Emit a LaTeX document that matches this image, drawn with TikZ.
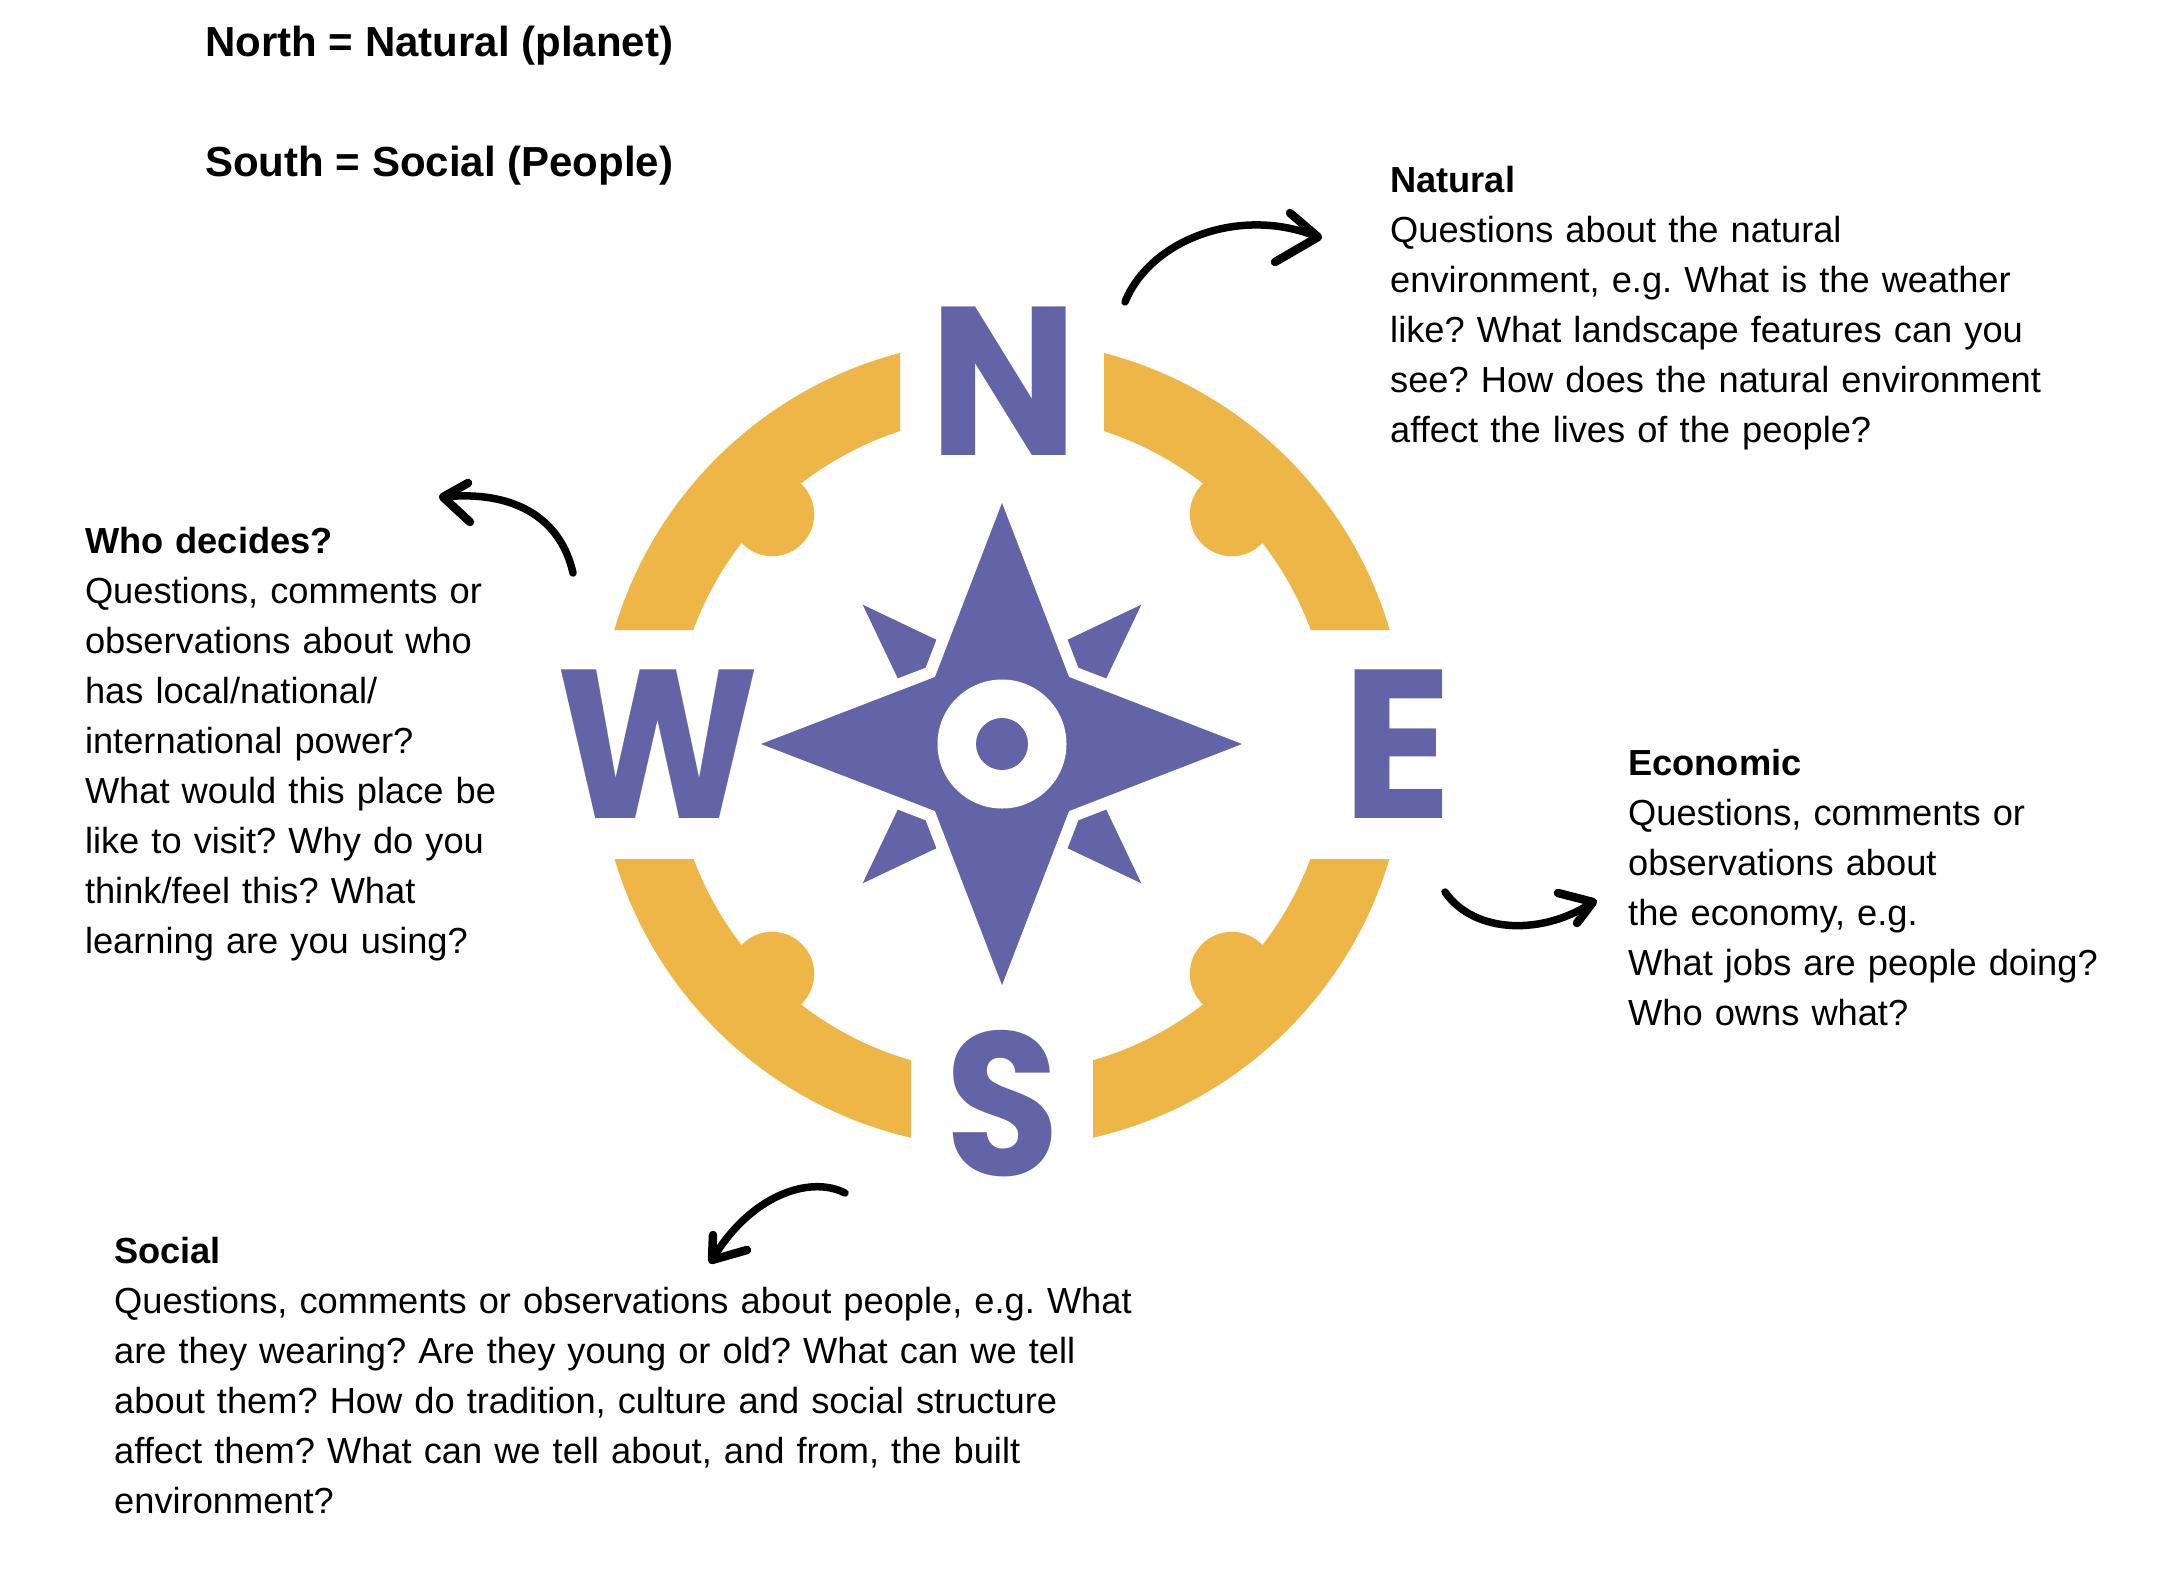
\documentclass[tikz,border=0pt]{standalone}
\usepackage{fontspec}
\usepackage{graphicx}
\setmainfont{Liberation Sans}
\newfontfamily\compassfont{Poppins}
\usetikzlibrary{calc}
\definecolor{cpurple}{HTML}{6264A7}
\definecolor{corange}{HTML}{EEB646}
\begin{document}
\begin{tikzpicture}[x=1pt,y=-1pt,
  body/.style={anchor=base west, inner sep=0pt, text width=#1, align=left,
    font=\fontsize{36.25}{50}\selectfont\frenchspacing},
  titletext/.style={anchor=base west, inner sep=0pt,
    font=\fontsize{42}{50}\selectfont\bfseries},
  brush/.style={line width=7.5pt, line cap=round, line join=round},
  brushhead/.style={line width=8.5pt, line cap=round, line join=round},
  letter/.style={anchor=base west, inner sep=0pt, text=cpurple}
]
\useasboundingbox (0,0) rectangle (2176,1572);
\fill[white] (0,0) rectangle (2176,1572);
\coordinate (C) at (1002,744);

% ---- orange ring ----
\begin{scope}
  \clip (0,0) rectangle (900,630) (1104,0) rectangle (2176,630)
        (0,859) rectangle (911,1572) (1093,859) rectangle (2176,1572);
  \fill[corange, even odd rule] (C) circle[radius=404] (C) circle[radius=329];
  \foreach \a in {45,135,225,315}
    \fill[corange] ($(C)+(\a:325)$) circle[radius=42];
\end{scope}

% ---- diagonal star ----
\fill[cpurple] (862.7,604.7) -- (1002,671) -- (1141.3,604.7) -- (1075,744)
  -- (1141.3,883.3) -- (1002,817) -- (862.7,883.3) -- (929,744) -- cycle;
% ---- main star ----
\path[draw=white, line width=24pt, line join=round]
  (1002,503) -- (1069,677) -- (1242,744) -- (1069,811) -- (1002,985)
  -- (935,811) -- (761,744) -- (935,677) -- cycle;
\fill[cpurple]
  (1002,503) -- (1069,677) -- (1242,744) -- (1069,811) -- (1002,985)
  -- (935,811) -- (761,744) -- (935,677) -- cycle;
\fill[white] (C) circle[radius=64.5];
\fill[cpurple] (C) circle[radius=26];

% ---- letters ----
\node[letter] (N) at (929,455) {\resizebox{148.8pt}{148.5pt}{\compassfont\bfseries N}};
\node[letter] (W) at (556.5,818.6) {\resizebox{202.8pt}{148.6pt}{\compassfont\bfseries W}};
\node[letter] (E) at (1342,818.6) {\resizebox{110pt}{148.6pt}{\compassfont\bfseries E}};
\node[letter] (S) at (945,1175) {\resizebox{114.4pt}{145pt}{\compassfont\bfseries S}};

% ---- titles ----
\node[titletext] (north) at (205,56.6) {North = Natural (planet)};
\node[titletext] (south) at (205,176) {South = Social (People)};

% ---- text blocks ----
\node[body=720pt] (natural) at (1390,192.7) {\textbf{Natural}\\
Questions about the natural\\
environment, e.g. What is the weather\\
like? What landscape features can you\\
see? How does the natural environment\\
affect the lives of the people?};

\node[body=520pt] (economic) at (1628,775) {\textbf{Economic}\\
Questions, comments or\\
observations about\\
the economy, e.g.\\
What jobs are people doing?\\
Who owns what?};

\node[body=470pt] (who) at (84.8,553.5) {\textbf{Who decides?}\\
Questions, comments or\\
observations about who\\
has local/national/\\
international power?\\
What would this place be\\
like to visit? Why do you\\
think/feel this? What\\
learning are you using?};

\node[body=1100pt] (social) at (114,1263.3) {\textbf{Social}\\
Questions, comments or observations about people, e.g. What\\
are they wearing? Are they young or old? What can we tell\\
about them? How do tradition, culture and social structure\\
affect them? What can we tell about, and from, the built\\
environment?};

% ---- arrows ----
\coordinate (nA) at (1125,302); \coordinate (nT) at (1318,237);
\draw[brush] (nA) .. controls (1150,240) and (1240,205) .. (nT);
\draw[brushhead] ($(nT)+(-28,-24)$) -- (nT) -- ($(nT)+(-43,25)$);

\coordinate (wA) at (573,573); \coordinate (wT) at (443,497);
\draw[brush] (wA) .. controls (560,515) and (510,490) .. (wT);
\draw[brushhead] ($(wT)+(25,-14)$) -- (wT) -- ($(wT)+(27,25)$);

\coordinate (sA) at (845,1193); \coordinate (sT) at (712,1260);
\draw[brush] (sA) .. controls (810,1175) and (750,1195) .. (sT);
\draw[brushhead] ($(sT)+(1,-25)$) -- (sT) -- ($(sT)+(35,-10)$);

\coordinate (eA) at (1445,892); \coordinate (eT) at (1593,902);
\draw[brush] (eA) .. controls (1475,935) and (1545,935) .. (eT);
\draw[brushhead] ($(eT)+(-35,-9)$) -- (eT) -- ($(eT)+(-16,21)$);
\end{tikzpicture}
\end{document}
